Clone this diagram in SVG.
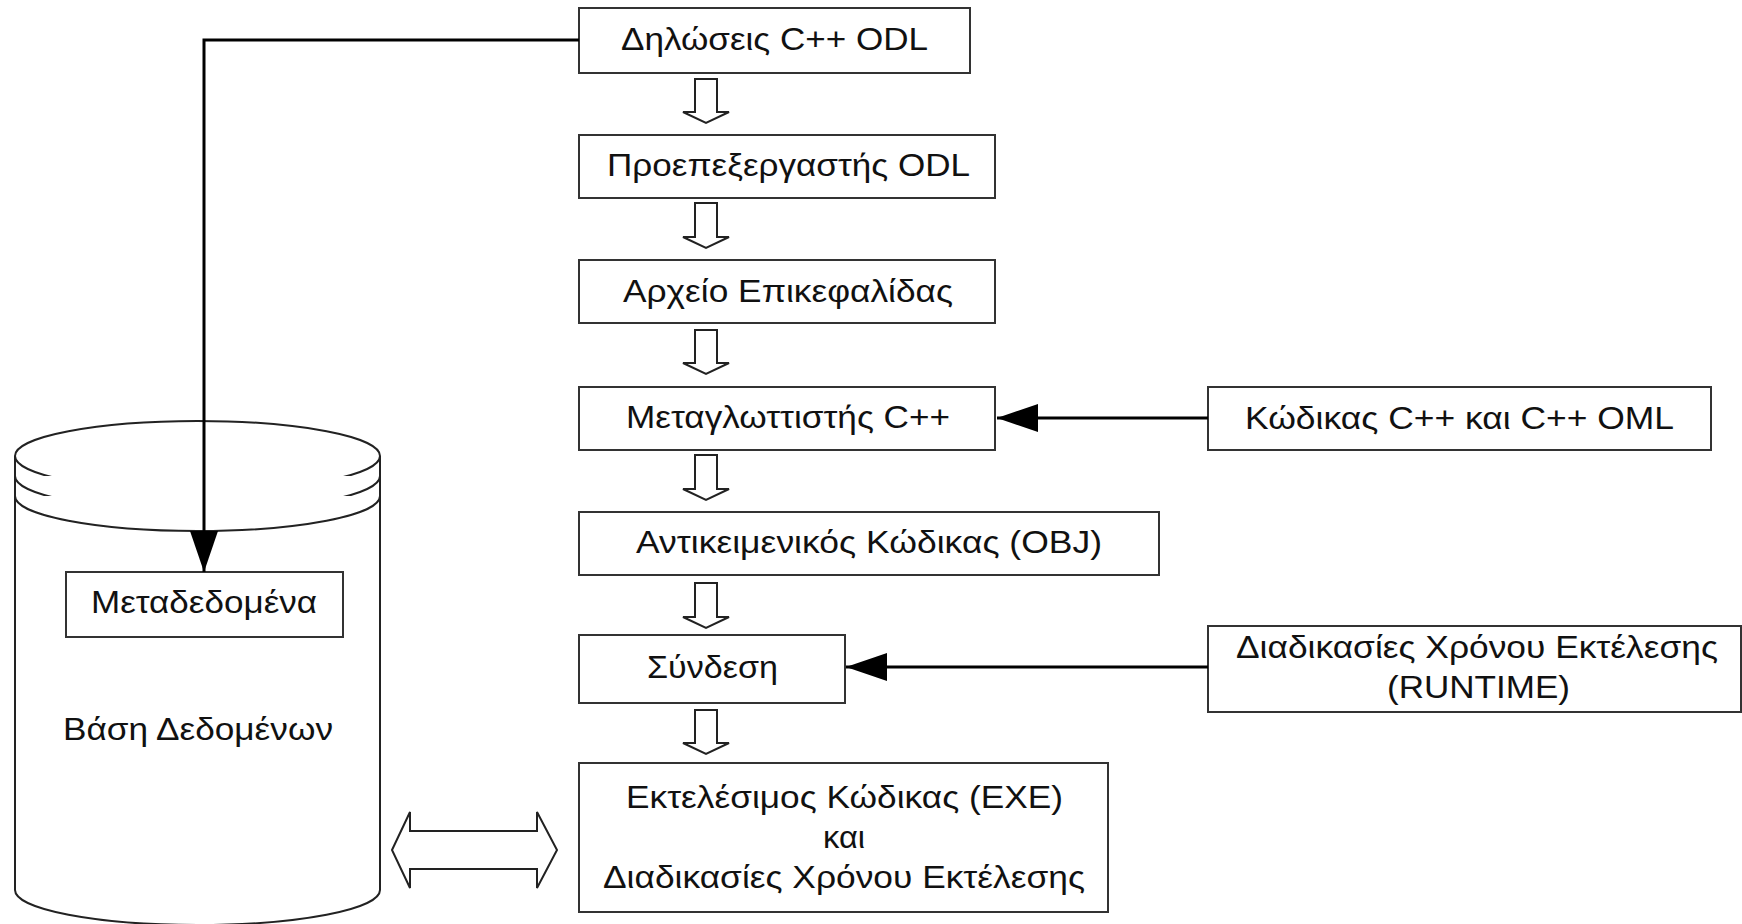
<svg xmlns="http://www.w3.org/2000/svg" width="1742" height="924" viewBox="0 0 1742 924">
<defs>
<style>
.box{fill:#fff;stroke:#333;stroke-width:2}
.cyl{fill:#fff;stroke:#222;stroke-width:2}
.t{font-family:"Liberation Sans",Arial,sans-serif;font-size:32px;fill:#111;text-anchor:middle}
.conn{fill:none;stroke:#000;stroke-width:3}
.hollow{fill:#fff;stroke:#222;stroke-width:2;stroke-linejoin:miter}
</style>
<marker id="ah" markerUnits="userSpaceOnUse" markerWidth="42" markerHeight="28" refX="41" refY="14" orient="auto">
<path d="M0,0 L41,14 L0,28 Z" fill="#000"/>
</marker>
</defs>
<rect width="1742" height="924" fill="#fff"/>

<g id="database">
<path class="cyl" d="M15,456 L15,890 A182.5,35 0 0 0 380,890 L380,456"/>
<ellipse class="cyl" cx="197.5" cy="456" rx="182.5" ry="35"/>
<path class="cyl" d="M15,476 A182.5,35 0 0 0 380,476" fill="none"/>
<path class="cyl" d="M15,496 A182.5,35 0 0 0 380,496" fill="none"/>
<text class="t" x="198" y="740" textLength="270" lengthAdjust="spacingAndGlyphs">Βάση Δεδομένων</text>
</g>
<g id="metadata">
<rect class="box" x="66" y="572" width="277" height="65"/>
<text class="t" x="204" y="613" textLength="226" lengthAdjust="spacingAndGlyphs">Μεταδεδομένα</text>
</g>

<g id="odl-decl">
<rect class="box" x="579" y="8" width="391" height="65"/>
<text class="t" x="774.5" y="50" textLength="307" lengthAdjust="spacingAndGlyphs">Δηλώσεις C++ ODL</text>
</g>
<g id="odl-pre">
<rect class="box" x="579" y="135" width="416" height="63"/>
<text class="t" x="788.5" y="176" textLength="363" lengthAdjust="spacingAndGlyphs">Προεπεξεργαστής ODL</text>
</g>
<g id="header">
<rect class="box" x="579" y="260" width="416" height="63"/>
<text class="t" x="788" y="302" textLength="330" lengthAdjust="spacingAndGlyphs">Αρχείο Επικεφαλίδας</text>
</g>
<g id="compiler">
<rect class="box" x="579" y="387" width="416" height="63"/>
<text class="t" x="788" y="428" textLength="324" lengthAdjust="spacingAndGlyphs">Μεταγλωττιστής C++</text>
</g>
<g id="obj">
<rect class="box" x="579" y="512" width="580" height="63"/>
<text class="t" x="869" y="553" textLength="466" lengthAdjust="spacingAndGlyphs">Αντικειμενικός Κώδικας (OBJ)</text>
</g>
<g id="link">
<rect class="box" x="579" y="635" width="266" height="68"/>
<text class="t" x="712.5" y="678" textLength="131" lengthAdjust="spacingAndGlyphs">Σύνδεση</text>
</g>
<g id="exe">
<rect class="box" x="579" y="763" width="529" height="149"/>
<text class="t" x="844.5" y="808" textLength="437" lengthAdjust="spacingAndGlyphs">Εκτελέσιμος Κώδικας (EXE)</text>
<text class="t" x="844" y="848" textLength="42" lengthAdjust="spacingAndGlyphs">και</text>
<text class="t" x="844" y="888" textLength="482" lengthAdjust="spacingAndGlyphs">Διαδικασίες Χρόνου Εκτέλεσης</text>
</g>
<g id="oml-code">
<rect class="box" x="1208" y="387" width="503" height="63"/>
<text class="t" x="1459.5" y="429" textLength="429" lengthAdjust="spacingAndGlyphs">Κώδικας C++ και C++ OML</text>
</g>
<g id="runtime">
<rect class="box" x="1208" y="626" width="533" height="86"/>
<text class="t" x="1477" y="658" textLength="482" lengthAdjust="spacingAndGlyphs">Διαδικασίες Χρόνου Εκτέλεσης</text>
<text class="t" x="1478.5" y="698" textLength="183" lengthAdjust="spacingAndGlyphs">(RUNTIME)</text>
</g>

<g id="connectors">
<path class="conn" d="M579,40 L204,40 L204,572" marker-end="url(#ah)"/>
<path class="conn" d="M1208,418 L997,418" marker-end="url(#ah)"/>
<path class="conn" d="M1208,667 L846,667" marker-end="url(#ah)"/>
<path class="hollow" d="M695,79 L717,79 L717,112 L729,112 L706,123 L683,112 L695,112 Z"/>
<path class="hollow" d="M695,203 L717,203 L717,237 L729,237 L706,248 L683,237 L695,237 Z"/>
<path class="hollow" d="M695,330 L717,330 L717,363 L729,363 L706,374 L683,363 L695,363 Z"/>
<path class="hollow" d="M695,455 L717,455 L717,489 L729,489 L706,500 L683,489 L695,489 Z"/>
<path class="hollow" d="M695,583 L717,583 L717,617 L729,617 L706,628 L683,617 L695,617 Z"/>
<path class="hollow" d="M695,710 L717,710 L717,743 L729,743 L706,754 L683,743 L695,743 Z"/>
<path class="hollow" d="M392,850 L410,812 L410,831 L537,831 L537,812 L557,850 L537,888 L537,869 L410,869 L410,888 Z"/>
</g>
</svg>
